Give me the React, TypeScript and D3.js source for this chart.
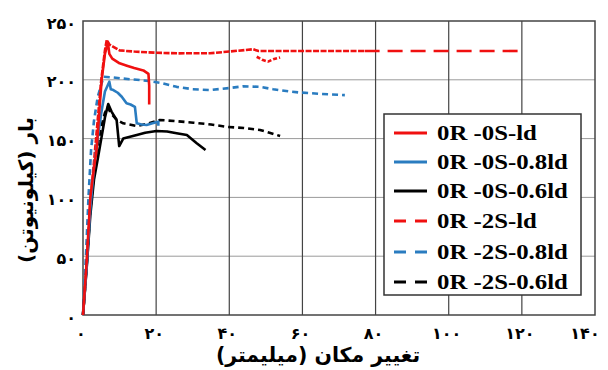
import * as d3 from "d3";

const xTicks = [0, 20, 40, 60, 80, 100, 120, 140];
const xTickLabels = ["۰", "۲۰", "۴۰", "۶۰", "۸۰", "۱۰۰", "۱۲۰", "۱۴۰"];
const yTicks = [0, 50, 100, 150, 200, 250];
const yTickLabels = ["۰", "۵۰", "۱۰۰", "۱۵۰", "۲۰۰", "۲۵۰"];

// [displacement mm, load kN]
const red0S: [number, number][] = [
  [0, 0], [1, 45], [2, 100], [3, 125], [3.7, 140], [4.5, 175], [5.1, 200], [6, 222],
  [6.8, 232], [7.2, 222], [8, 218], [10, 214], [12, 212], [14, 210], [16.5, 208],
  [17.9, 205], [18.1, 195], [18.1, 179],
];
const blue0S: [number, number][] = [
  [0, 0], [1, 40], [2, 90], [3, 125], [4, 150], [5, 172], [6, 190], [7.2, 198.4],
  [7.6, 192], [8.3, 191.3], [9.5, 189], [10.6, 185.6], [11.9, 180], [13, 179],
  [14.2, 177], [14.7, 163], [16, 162], [17.4, 161.6], [19, 163], [20.6, 164.4], [20.6, 161],
];
const black0S: [number, number][] = [
  [0, 0], [1, 40], [2, 85], [3, 115], [4.1, 134], [5, 150], [6, 168], [6.9, 179.4],
  [7.8, 173], [9.2, 165.8], [9.9, 143.7], [11, 150], [14.7, 153], [17, 155], [20.1, 156.5],
  [23, 156], [25.6, 154.5], [28.4, 153], [31.1, 146], [33.5, 140.3],
];
const red2S: [number, number][] = [
  [0, 0], [1, 42], [2, 95], [3, 130], [4, 165], [5, 200], [6, 225], [6.5, 234],
  [7.2, 230], [8.3, 228], [10, 225], [14, 224], [20, 223], [26, 222.5], [34.7, 222.6],
  [40, 224], [46.5, 226], [48, 224.5], [60, 224.5], [77, 224.5],
];
const red2STail: [number, number][] = [[77, 224.5], [119.5, 224.5]];
const red2SBranch: [number, number][] = [
  [47.5, 219.6], [49, 217], [50.6, 215.5], [52, 217.5], [53.9, 219],
];
const blue2S: [number, number][] = [
  [0, 0], [0.3, 20], [0.8, 50], [1.5, 100], [2.2, 140], [3, 165], [4, 185], [5.6, 202.6],
  [8.3, 202], [11, 201], [14.7, 200], [18, 199], [21, 197.5], [25.6, 194], [30, 192],
  [34.7, 191.3], [40, 193], [43.8, 194.5], [48.4, 194], [52, 192], [56.6, 190],
  [59.3, 189.2], [65, 188], [71.6, 187],
];
const black2S: [number, number][] = [
  [0, 0], [1, 42], [2, 90], [3, 120], [4, 145], [5, 160], [6, 172], [6.8, 177],
  [7.5, 172], [9.2, 166], [11, 163], [14.7, 160.7], [18, 163], [21, 165.8], [25, 165],
  [30.2, 163.5], [35, 162], [39.3, 160], [44, 159], [48.4, 157.3], [51, 155], [53.9, 152.2],
];

const legendNames = ["0R -0S-ld", "0R -0S-0.8ld", "0R -0S-0.6ld", "0R -2S-ld", "0R -2S-0.8ld", "0R -2S-0.6ld"];
const RED = "#f01010";
const BLUE = "#2a7cc0";
const BLACK = "#000";
const legendColors = [RED, BLUE, BLACK, RED, BLUE, BLACK];

export default function App() {
  const width = 608;
  const height = 370;
  const x = d3.scaleLinear().domain([0, 140]).range([83, 595]);
  const y = d3.scaleLinear().domain([0, 250]).range([315, 21]);
  const line = d3.line<[number, number]>().x(d => x(d[0])).y(d => y(d[1]));

  const series = [
    { data: black2S, color: BLACK, dash: "6,4" },
    { data: blue2S, color: BLUE, dash: "6,4" },
    { data: red2S, color: RED, dash: "6,1.5" },
    { data: red2STail, color: RED, dash: "15,8" },
    { data: red2SBranch, color: RED, dash: "4,2" },
    { data: black0S, color: BLACK, dash: null },
    { data: blue0S, color: BLUE, dash: null },
    { data: red0S, color: RED, dash: null },
  ];

  const fa = "'DejaVu Sans', sans-serif";
  const legendRows = [133, 162, 191, 221, 252, 282];

  return (
    <svg width={width} height={height} style={{ position: "absolute", left: 0, top: 0 }}>
      <rect width={width} height={height} fill="#fff" />
      {yTicks.slice(1, -1).map(t => (
        <line key={"h" + t} x1={x(0)} x2={x(140)} y1={y(t)} y2={y(t)} stroke="#9a9a9a" strokeWidth={1} />
      ))}
      {xTicks.slice(1, -1).map(t => (
        <line key={"v" + t} x1={x(t)} x2={x(t)} y1={y(0)} y2={y(250)} stroke="#444" strokeWidth={1.2} />
      ))}
      <rect x={x(0)} y={y(250)} width={x(140) - x(0)} height={y(0) - y(250)} fill="none" stroke="#444" strokeWidth={1.5} />
      {yTicks.map((t, i) => (
        <text key={"yt" + t} x={76} y={y(t) + 2} textAnchor="end" dominantBaseline="central"
          fontFamily={fa} fontWeight="bold" fontSize={16}>{yTickLabels[i]}</text>
      ))}
      {xTicks.map((t, i) => (
        <text key={"xt" + t} x={x(t) - (t === 140 ? 10 : 2)} y={333} textAnchor="middle" dominantBaseline="central"
          fontFamily={fa} fontWeight="bold" fontSize={16}>{xTickLabels[i]}</text>
      ))}
      {series.map((s, i) => (
        <path key={i} d={line(s.data) ?? ""} fill="none" stroke={s.color} strokeWidth={2.6}
          strokeDasharray={s.dash ?? undefined} strokeLinejoin="round" />
      ))}
      <rect x={384} y={114} width={197} height={181} fill="#fff" stroke="#333" strokeWidth={1.5} />
      {legendNames.map((n, i) => (
        <g key={n}>
          <line x1={394} x2={427} y1={legendRows[i]} y2={legendRows[i]} stroke={legendColors[i]}
            strokeWidth={3} strokeDasharray={i > 2 ? "12,9" : undefined} />
          <text transform={`translate(437,${legendRows[i]}) scale(1.24,1)`} dominantBaseline="central"
            fontFamily="'Liberation Serif', serif" fontWeight="bold" fontSize={20}>{n}</text>
        </g>
      ))}
      <text x={318} y={355} textAnchor="middle" dominantBaseline="central" fontFamily={fa}
        fontWeight="bold" fontSize={20.5}>تغییر مکان (میلیمتر)</text>
      <text transform="translate(26,190) rotate(-90)" textAnchor="middle" dominantBaseline="central"
        fontFamily={fa} fontWeight="bold" fontSize={20}>بار (کیلونیوتن)</text>
    </svg>
  );
}
